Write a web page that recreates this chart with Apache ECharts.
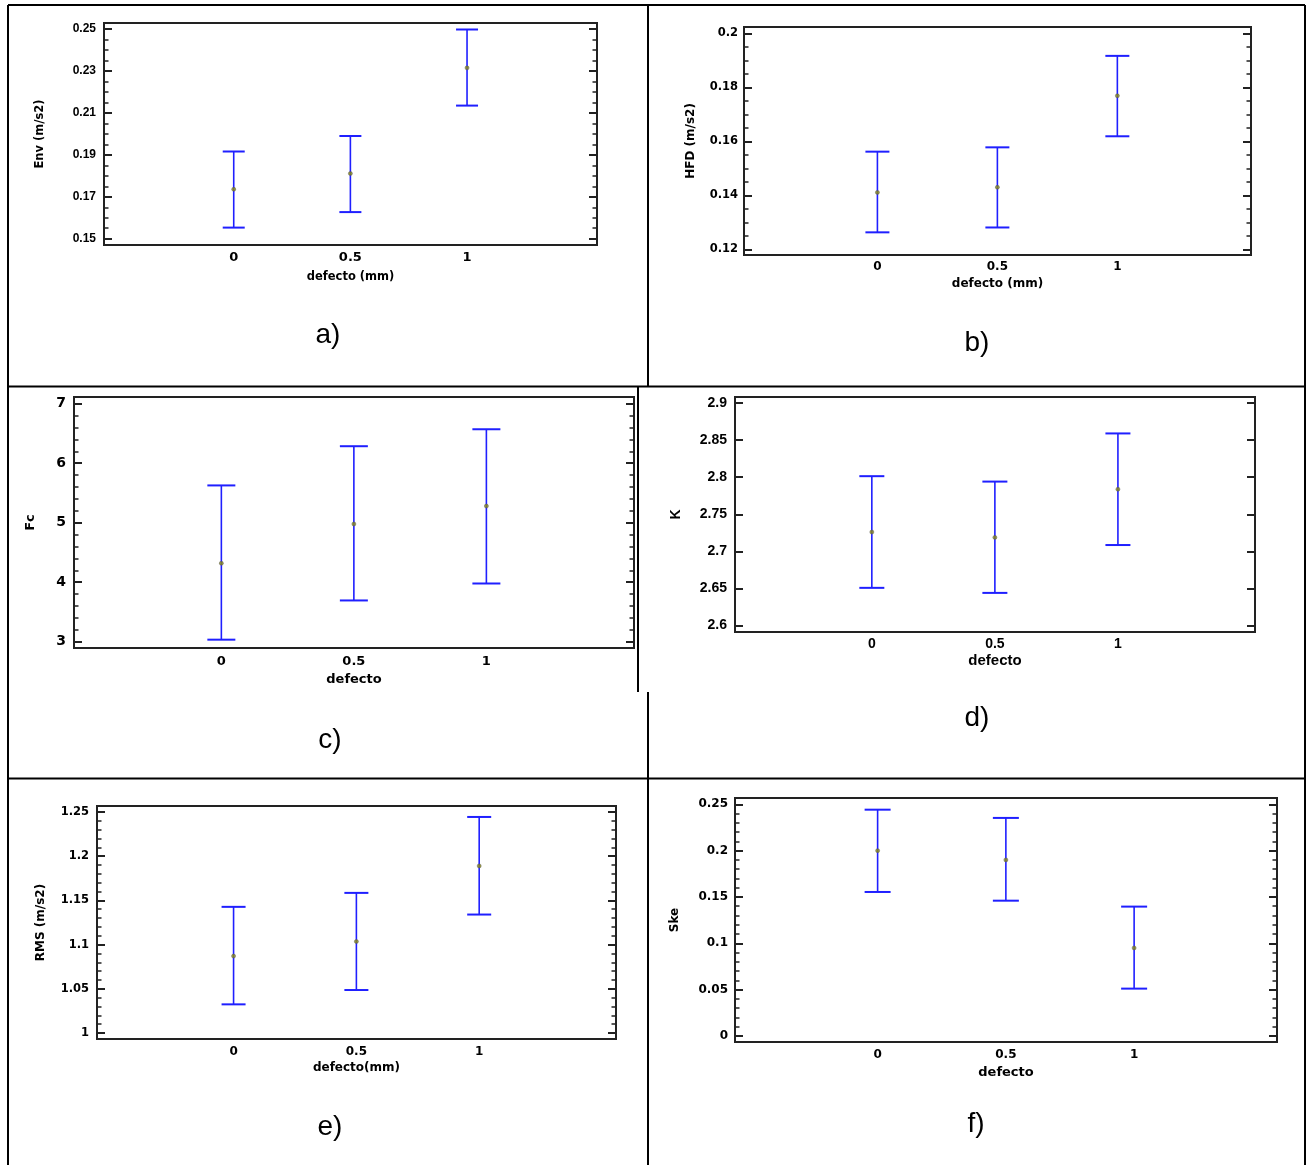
<!DOCTYPE html>
<html><head><meta charset="utf-8">
<script src="https://cdn.jsdelivr.net/npm/echarts@6/dist/echarts.min.js"></script>
<style>html,body{margin:0;padding:0;background:#fff}#c{width:1306px;height:1165px}</style>
</head><body><div id="c"></div>
<script>
// ---------- DATA ----------
const defecto = [0, 0.5, 1];
const xTickLabels = [0, 0.5, 1];

const envMean = [0.1736, 0.1811, 0.2315];
const envLow  = [0.1553, 0.1627, 0.2135];
const envHigh = [0.1916, 0.1990, 0.2498];
const envTicks = [0.15, 0.17, 0.19, 0.21, 0.23, 0.25];

const hfdMean = [0.1411, 0.1430, 0.1769];
const hfdLow  = [0.1263, 0.1281, 0.1619];
const hfdHigh = [0.1562, 0.1578, 0.1917];
const hfdTicks = [0.12, 0.14, 0.16, 0.18, 0.2];

const fcMean = [4.318, 4.978, 5.279];
const fcLow  = [3.034, 3.693, 3.978];
const fcHigh = [5.626, 6.285, 6.570];
const fcTicks = [3, 4, 5, 6, 7];

const kMean = [2.7261, 2.7189, 2.7838];
const kLow  = [2.6509, 2.6441, 2.7086];
const kHigh = [2.8014, 2.7941, 2.8590];
const kTicks = [2.6, 2.65, 2.7, 2.75, 2.8, 2.85, 2.9];

const rmsMean = [1.087, 1.1035, 1.189];
const rmsLow  = [1.0324, 1.0486, 1.134];
const rmsHigh = [1.1427, 1.1585, 1.2444];
const rmsTicks = [1, 1.05, 1.1, 1.15, 1.2, 1.25];

const skeMean = [0.200, 0.190, 0.095];
const skeLow  = [0.1554, 0.146, 0.0511];
const skeHigh = [0.2442, 0.2353, 0.1396];
const skeTicks = [0, 0.05, 0.1, 0.15, 0.2, 0.25];

// ---------- STYLE / LAYOUT ----------
const LIB = '"Liberation Sans", Arial, sans-serif';
const DJ = '"DejaVu Sans", sans-serif';
const BLUE = '#1f1fff';
const FRAME = '#222';
const X_MIN = -0.556, X_MAX = 1.557;

const panels = [
  {grid:{left:104, top:23, width:493, height:222}, yMin:0.147, yMax:0.2529, major:envTicks, minorStep:0.005,
   mean:envMean, low:envLow, high:envHigh, yName:'Env (m/s2)', xName:'defecto (mm)', capW:22,
   yLab:{ff:LIB, fs:12, m:8}, xLab:{ff:DJ, fs:13, m:6}, xNm:{ff:DJ, fs:11.5, gap:26}, yNm:{ff:DJ, fs:11.5, gap:58},
   tag:{t:'a)', x:328, y:335}},
  {grid:{left:744, top:27, width:507, height:228}, yMin:0.1179, yMax:0.2024, major:hfdTicks, minorStep:0.005,
   mean:hfdMean, low:hfdLow, high:hfdHigh, yName:'HFD (m/s2)', xName:'defecto (mm)', capW:24,
   yLab:{ff:DJ, fs:11.5, m:6}, xLab:{ff:DJ, fs:12, m:6}, xNm:{ff:DJ, fs:12, gap:23}, yNm:{ff:DJ, fs:12, gap:47},
   tag:{t:'b)', x:977, y:343}},
  {grid:{left:74, top:397, width:560, height:251}, yMin:2.894, yMax:7.112, major:fcTicks, minorStep:0.2,
   mean:fcMean, low:fcLow, high:fcHigh, yName:'Fc', xName:'defecto', capW:28,
   yLab:{ff:DJ, fs:14, m:8}, xLab:{ff:DJ, fs:13, m:7}, xNm:{ff:DJ, fs:13, gap:25}, yNm:{ff:DJ, fs:13, gap:37},
   tag:{t:'c)', x:330, y:740}},
  {grid:{left:735, top:397, width:520, height:235}, yMin:2.5914, yMax:2.9081, major:kTicks, minorStep:null,
   mean:kMean, low:kLow, high:kHigh, yName:'K', xName:'defecto', capW:25,
   yLab:{ff:LIB, fs:14, m:8}, xLab:{ff:LIB, fs:14, m:5}, xNm:{ff:LIB, fs:15, gap:21}, yNm:{ff:LIB, fs:14, gap:52},
   tag:{t:'d)', x:977, y:718}},
  {grid:{left:97, top:806, width:519, height:233}, yMin:0.9932, yMax:1.2568, major:rmsTicks, minorStep:0.01,
   mean:rmsMean, low:rmsLow, high:rmsHigh, yName:'RMS (m/s2)', xName:'defecto(mm)', capW:24,
   yLab:{ff:DJ, fs:11.5, m:8}, xLab:{ff:DJ, fs:12, m:7}, xNm:{ff:DJ, fs:12, gap:23}, yNm:{ff:DJ, fs:12, gap:50},
   tag:{t:'e)', x:330, y:1127}},
  {grid:{left:735, top:798, width:542, height:244}, yMin:-0.0065, yMax:0.2568, major:skeTicks, minorStep:0.01,
   mean:skeMean, low:skeLow, high:skeHigh, yName:'Ske', xName:'defecto', capW:26,
   yLab:{ff:DJ, fs:12, m:7}, xLab:{ff:DJ, fs:12, m:7}, xNm:{ff:DJ, fs:13, gap:24}, yNm:{ff:DJ, fs:12, gap:54},
   tag:{t:'f)', x:976, y:1124}}
];

function minorTicks(p) {
  if (!p.minorStep) return [];
  const out = [];
  let k = Math.ceil(p.yMin / p.minorStep - 1e-9);
  for (;; k++) {
    const v = +(k * p.minorStep).toFixed(6);
    if (v > p.yMax) break;
    if (!p.major.some(m => Math.abs(m - v) < p.minorStep / 10)) out.push(v);
  }
  return out;
}

function errRender(capW) {
  return function (params, api) {
    const x = api.value(0), lo = api.value(1), hi = api.value(2);
    const a = api.coord([x, lo]), b = api.coord([x, hi]);
    const vs = {stroke: BLUE, lineWidth: 1.6};
    const cs = {stroke: BLUE, lineWidth: 2};
    return {type: 'group', children: [
      {type: 'line', shape: {x1: a[0], y1: a[1], x2: b[0], y2: b[1]}, style: vs},
      {type: 'line', shape: {x1: a[0] - capW / 2, y1: a[1], x2: a[0] + capW / 2, y2: a[1]}, style: cs},
      {type: 'line', shape: {x1: b[0] - capW / 2, y1: b[1], x2: b[0] + capW / 2, y2: b[1]}, style: cs}
    ]};
  };
}

const grids = [], xAxes = [], yAxes = [], series = [], graphics = [];
panels.forEach((p, i) => {
  grids.push(Object.assign({show: true, borderColor: FRAME, borderWidth: 2, backgroundColor: 'transparent'}, p.grid));
  xAxes.push({
    gridIndex: i, type: 'value', min: X_MIN, max: X_MAX, position: 'bottom',
    axisLine: {show: false, onZero: false}, axisTick: {show: false}, splitLine: {show: false},
    axisLabel: {customValues: xTickLabels, margin: p.xLab.m, color: '#000', fontWeight: 'bold',
                fontFamily: p.xLab.ff, fontSize: p.xLab.fs, formatter: v => String(v)},
    name: p.xName, nameLocation: 'middle', nameGap: p.xNm.gap,
    nameTextStyle: {color: '#000', fontWeight: 'bold', fontFamily: p.xNm.ff, fontSize: p.xNm.fs}
  });
  const minors = minorTicks(p);
  const base = {gridIndex: i, type: 'value', min: p.yMin, max: p.yMax, splitLine: {show: false},
                axisLine: {show: false, onZero: false}};
  yAxes.push(Object.assign({}, base, {
    position: 'left',
    axisTick: {show: true, inside: true, length: 8, customValues: p.major, lineStyle: {color: FRAME, width: 2}},
    axisLabel: {customValues: p.major, margin: p.yLab.m, color: '#000', fontWeight: 'bold',
                fontFamily: p.yLab.ff, fontSize: p.yLab.fs, formatter: v => String(v)},
    name: p.yName, nameLocation: 'middle', nameRotate: 90, nameGap: p.yNm.gap,
    nameTextStyle: {color: '#000', fontWeight: 'bold', fontFamily: p.yNm.ff, fontSize: p.yNm.fs}
  }));
  const mainY = yAxes.length - 1;
  yAxes.push(Object.assign({}, base, {
    position: 'left', axisLabel: {show: false},
    axisTick: {show: minors.length > 0, inside: true, length: 4.5, customValues: minors.length ? minors : [p.major[0]], lineStyle: {color: FRAME, width: 1.5}}
  }));
  yAxes.push(Object.assign({}, base, {
    position: 'right', axisLabel: {show: false},
    axisTick: {show: true, inside: true, length: 8, customValues: p.major, lineStyle: {color: FRAME, width: 2}}
  }));
  yAxes.push(Object.assign({}, base, {
    position: 'right', axisLabel: {show: false},
    axisTick: {show: minors.length > 0, inside: true, length: 4.5, customValues: minors.length ? minors : [p.major[0]], lineStyle: {color: FRAME, width: 1.5}}
  }));
  series.push({
    type: 'custom', xAxisIndex: i, yAxisIndex: mainY,
    renderItem: errRender(p.capW), encode: {x: 0, y: [1, 2]},
    data: defecto.map((d, j) => [d, p.low[j], p.high[j]]), silent: true, z: 2
  });
  series.push({
    type: 'scatter', xAxisIndex: i, yAxisIndex: mainY, symbol: 'circle', symbolSize: 4,
    itemStyle: {color: '#8a8a10', borderColor: '#555', borderWidth: 0.6},
    data: defecto.map((d, j) => [d, p.mean[j]]), silent: true, z: 3
  });
  graphics.push({type: 'text', x: p.tag.x, y: p.tag.y, silent: true,
    style: {text: p.tag.t, font: '28px "Liberation Sans", Arial, sans-serif', fill: '#000', textAlign: 'center', textVerticalAlign: 'middle'}});
});

// outer table frame
const L = (x1, y1, x2, y2) => ({type: 'line', silent: true, shape: {x1, y1, x2, y2}, style: {stroke: '#000', lineWidth: 2}});
graphics.push(
  L(8, 5, 1305, 5), L(8, 5, 8, 1165), L(1305, 5, 1305, 1165),
  L(8, 386.5, 1305, 386.5), L(8, 778.5, 1305, 778.5),
  L(648, 5, 648, 386.5), L(638, 386.5, 638, 692), L(648, 692, 648, 778.5), L(648, 778.5, 648, 1165)
);

const chart = echarts.init(document.getElementById('c'), null, {renderer: 'canvas'});
chart.setOption({
  animation: false,
  backgroundColor: '#fff',
  grid: grids, xAxis: xAxes, yAxis: yAxes, series: series, graphic: graphics
});
</script></body></html>
